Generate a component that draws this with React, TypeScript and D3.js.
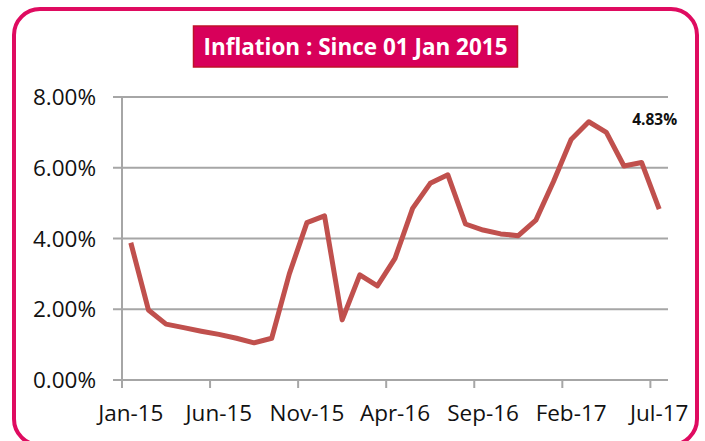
import React from "react";
import * as d3 from "d3";

const months = [
  "Jan-15", "Feb-15", "Mar-15", "Apr-15", "May-15", "Jun-15", "Jul-15", "Aug-15",
  "Sep-15", "Oct-15", "Nov-15", "Dec-15", "Jan-16", "Feb-16", "Mar-16", "Apr-16",
  "May-16", "Jun-16", "Jul-16", "Aug-16", "Sep-16", "Oct-16", "Nov-16", "Dec-16",
  "Jan-17", "Feb-17", "Mar-17", "Apr-17", "May-17", "Jun-17", "Jul-17",
];
const inflation = [
  3.88, 1.98, 1.58, 1.48, 1.38, 1.29, 1.18, 1.05,
  1.18, 3.0, 4.45, 4.64, 1.7, 2.97, 2.66, 3.44,
  4.85, 5.56, 5.8, 4.41, 4.24, 4.13, 4.08, 4.52,
  5.61, 6.8, 7.3, 7.0, 6.05, 6.15, 4.83,
];
const xTickLabels = ["Jan-15", "Jun-15", "Nov-15", "Apr-16", "Sep-16", "Feb-17", "Jul-17"];
const yTicks = [0, 2, 4, 6, 8];
const title = "Inflation : Since 01 Jan 2015";
const lastLabel = "4.83%";

const W = 705;
const H = 441;
const font = "'Open Sans', sans-serif";

const App = () => {
  const x = d3.scaleBand<string>().domain(months).range([122, 668]).padding(0);
  const y = d3.scaleLinear().domain([0, 8]).range([380, 97]);
  const cx = (m: string) => (x(m) as number) + x.bandwidth() / 2;

  const line = d3
    .line<number>()
    .x((_, i) => cx(months[i]))
    .y((d) => y(d));

  const lastIdx = inflation.length - 1;

  return (
    <svg width={W} height={H} style={{ position: "absolute", left: 0, top: 0 }}>
      <rect x={0} y={0} width={W} height={H} fill="#fff" />
      {/* outer frame */}
      <rect x={14} y={9} width={683} height={436} rx={26} fill="none" stroke="#df0b60" strokeWidth={4} />

      {/* title */}
      <rect x={193.5} y={26} width={324} height={41} fill="#d8005a" stroke="#c0102a" strokeWidth={1.5} />
      <text
        x={355.5}
        y={55}
        textAnchor="middle"
        fill="#fff"
        fontFamily={font}
        fontWeight="bold"
        fontSize={23}
        textLength={304}
        lengthAdjust="spacingAndGlyphs"
      >
        {title}
      </text>

      {/* gridlines + y labels */}
      {yTicks.map((t) => (
        <g key={t}>
          <line x1={113} x2={668} y1={y(t)} y2={y(t)} stroke="#a6a6a6" strokeWidth={2} />
          <text x={96} y={y(t) + 8} textAnchor="end" fontFamily={font} fontSize={22.5} fill="#111">
            {t.toFixed(2)}%
          </text>
        </g>
      ))}

      {/* vertical axis */}
      <line x1={122} x2={122} y1={y(8)} y2={388} stroke="#a6a6a6" strokeWidth={2} />

      {/* x ticks + labels */}
      {xTickLabels.map((m) => (
        <g key={m}>
          <line x1={x(m)} x2={x(m)} y1={380} y2={388} stroke="#a6a6a6" strokeWidth={2} />
          <text x={cx(m)} y={421} textAnchor="middle" fontFamily={font} fontSize={22.5} fill="#111">
            {m}
          </text>
        </g>
      ))}

      {/* series */}
      <path d={line(inflation) || ""} fill="none" stroke="#c0504d" strokeWidth={5} strokeLinejoin="round" />

      <text
        x={cx(months[lastIdx]) - 27}
        y={125}
        textAnchor="start"
        fontFamily={font}
        fontWeight="bold"
        fontSize={15.5}
        fill="#111"
      >
        {lastLabel}
      </text>
    </svg>
  );
};

export default App;
